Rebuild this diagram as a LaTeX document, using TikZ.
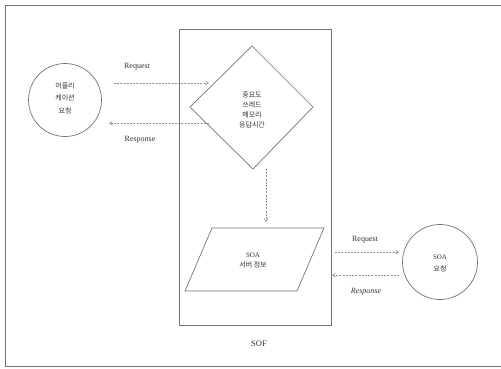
\documentclass[tikz,border=0pt]{standalone}
\usepackage{fontspec}
\setmainfont{Liberation Serif}
\newfontfamily\kr{Noto Sans CJK KR}
\usetikzlibrary{arrows.meta}
\begin{document}
\begin{tikzpicture}[x=1pt,y=-1pt,
  shapeline/.style={draw=black!55, line width=0.7pt},
  conn/.style={draw=black!45, line width=0.5pt, dash pattern=on 2pt off 1.2pt, -{Straight Barb[length=3pt,width=4pt]}},
  lbl/.style={font=\fontsize{8}{9}\selectfont, inner sep=0pt, text=black!80},
  krtext/.style={font=\kr\fontsize{7}{10}\selectfont, align=center, inner sep=0pt, text=black!80}]
\useasboundingbox (0,0) rectangle (501,368);
% outer frame (right side runs off the picture)
\draw[shapeline] (504,5) -- (5,5) -- (5,366) -- (504,366);
% SOF box
\node[shapeline, minimum width=152pt, minimum height=296pt, inner sep=0pt] (sof) at (255,177) {};
\node[lbl, font=\fontsize{8.5}{9}\selectfont] (soflbl) at (259,344) {SOF};
% left circle
\node[shapeline, circle, minimum size=73pt, inner sep=0pt] (app) at (65,100) {};
\node[krtext, font=\kr\fontsize{7}{12.5}\selectfont] (apptxt) at (65,98) {어플리\\케이션\\요청};
% diamond
\coordinate (dt) at (252,46);
\coordinate (dl) at (190,107);
\coordinate (db) at (253,169);
\coordinate (dr) at (313,107);
\draw[shapeline] (dt) -- (dr) -- (db) -- (dl) -- cycle;
\node[krtext, font=\kr\fontsize{7}{10.3}\selectfont] (dtxt) at (252,110) {중요도\\쓰레드\\메모리\\응답시간};
% parallelogram
\coordinate (ptl) at (212,228);
\coordinate (ptr) at (324,228);
\coordinate (pbr) at (297,291);
\coordinate (pbl) at (185,291);
\draw[shapeline] (ptl) -- (ptr) -- (pbr) -- (pbl) -- cycle;
\node[krtext, font=\kr\fontsize{7}{10}\selectfont] (ptxt) at (253,260) {\rmfamily SOA\\서버 정보};
% right circle
\node[shapeline, circle, minimum size=75pt, inner sep=0pt] (soa) at (440,262) {};
\node[krtext, font=\kr\fontsize{7}{12}\selectfont] (soatxt) at (440,263) {\rmfamily SOA\\요청};
% connectors left
\coordinate (lq1) at (114,83);
\coordinate (lq2) at (209,83);
\coordinate (lr1) at (209,123);
\coordinate (lr2) at (109,123);
\draw[conn] (lq1) -- (lq2);
\draw[conn] (lr1) -- (lr2);
\node[lbl] (lreq) at (137,67) {Request};
\node[lbl] (lres) at (140,140) {Response};
% vertical connector
\coordinate (v1) at (266,169);
\coordinate (v2) at (266,222);
\draw[conn] (v1) -- (v2);
% connectors right
\coordinate (rq1) at (335,252);
\coordinate (rq2) at (399,252);
\coordinate (rr1) at (399,275);
\coordinate (rr2) at (332,275);
\draw[conn] (rq1) -- (rq2);
\draw[conn] (rr1) -- (rr2);
\node[lbl] (rreq) at (365,240) {Request};
\node[lbl] (rres) at (366,292) {\itshape Response};
\end{tikzpicture}
\end{document}
